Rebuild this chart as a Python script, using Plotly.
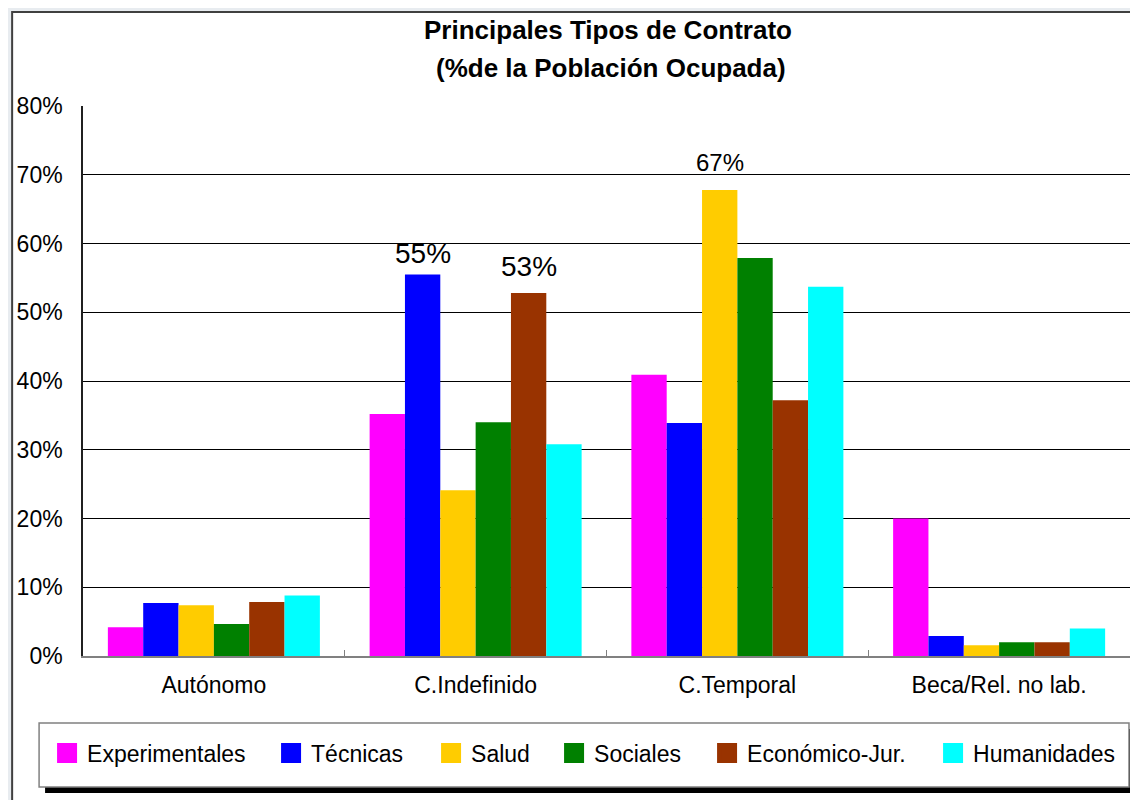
import plotly.graph_objects as go

categories = ["Autónomo", "C.Indefinido", "C.Temporal", "Beca/Rel. no lab."]
series_names = ["Experimentales", "Técnicas", "Salud", "Sociales", "Económico-Jur.", "Humanidades"]
series_colors = ["#FF00FF", "#0000FF", "#FFCC00", "#008000", "#993300", "#00FFFF"]

experimentales = [4.2, 35.2, 40.9, 20.0]
tecnicas = [7.7, 55.5, 33.9, 2.9]
salud = [7.4, 24.1, 67.8, 1.55]
sociales = [4.65, 34.0, 57.9, 2.0]
economico = [7.85, 52.8, 37.2, 2.0]
humanidades = [8.8, 30.8, 53.7, 4.0]
series_values = [experimentales, tecnicas, salud, sociales, economico, humanidades]

# data labels: (series index, category index, text, font size, gap above bar in px)
data_labels = [
    (1, 1, "55%", 28, 21),
    (4, 1, "53%", 28, 27),
    (2, 2, "67%", 24, 27),
]

yticks = [0, 10, 20, 30, 40, 50, 60, 70, 80]
ytick_labels = ["0%", "10%", "20%", "30%", "40%", "50%", "60%", "70%", "80%"]

OFF = 8  # page body margin
W, H = 1138 - OFF, 800 - OFF
ML, MR, MT, MB = 83 - OFF, 6, 106 - OFF, 144
PW, PH = W - ML - MR, H - MT - MB
BARGAP = 0.19

def px_x(p):
    return (p - OFF - ML) / PW

def px_y(p):
    return (H + OFF - MB - p) / PH

FONT = "Liberation Sans, Arial, sans-serif"

fig = go.Figure()
for name, color, vals in zip(series_names, series_colors, series_values):
    fig.add_trace(go.Bar(
        x=categories, y=vals, name=name, marker=dict(color=color, line=dict(width=0)),
        showlegend=False, hoverinfo="x+y+name",
    ))

legend_widths = [179, 115, 78, 108, 181, 150]
for name, color, lw in zip(series_names, series_colors, legend_widths):
    fig.add_trace(go.Scatter(
        x=[None], y=[None], mode="markers", name=name, legendwidth=lw,
        marker=dict(symbol="square", size=16, color=color, line=dict(color=color, width=4)),
    ))

n_series = len(series_names)
bar_w = PW / len(categories) * (1 - BARGAP) / n_series
annotations = []
for si, ci, txt, fs, gap in data_labels:
    annotations.append(dict(
        text=txt, xref="x", yref="y", x=categories[ci], y=series_values[si][ci],
        xshift=(si - (n_series - 1) / 2) * bar_w, yshift=gap,
        showarrow=False, xanchor="center", yanchor="middle",
        font=dict(size=fs, color="black", family=FONT)))

annotations += [
    dict(text="<b>Principales Tipos de Contrato</b>", xref="paper", yref="paper",
         x=px_x(609), y=px_y(30), showarrow=False, xanchor="center", yanchor="middle",
         font=dict(size=26, color="black", family=FONT)),
    dict(text="<b>(%de la Población Ocupada)</b>", xref="paper", yref="paper",
         x=px_x(612), y=px_y(68), showarrow=False, xanchor="center", yanchor="middle",
         font=dict(size=26, color="black", family=FONT)),
]

shapes = [
    dict(type="rect", xref="paper", yref="paper", layer="below",
         x0=px_x(12), x1=px_x(1150), y0=px_y(812), y1=px_y(12),
         fillcolor="white", line=dict(color="#404040", width=2)),
    dict(type="rect", xref="paper", yref="paper", layer="below",
         x0=px_x(45), x1=px_x(1138), y0=px_y(793), y1=px_y(729),
         fillcolor="black", line=dict(width=0)),
    dict(type="rect", xref="paper", yref="paper", layer="below",
         x0=px_x(39), x1=px_x(1131), y0=px_y(787), y1=px_y(723),
         fillcolor="white", line=dict(color="#808080", width=1.5)),
]

fig.update_layout(
    width=W, height=H,
    margin=dict(l=ML, r=MR, t=MT, b=MB, pad=0),
    paper_bgcolor="#E8ECF0",
    plot_bgcolor="white",
    barmode="group", bargap=BARGAP, bargroupgap=0,
    font=dict(family=FONT, color="black", size=22),
    shapes=shapes, annotations=annotations,
    legend=dict(orientation="h", x=px_x(47), xanchor="left", y=px_y(753), yanchor="middle",
                bgcolor="rgba(0,0,0,0)", font=dict(size=23, family=FONT, color="black"),
                itemsizing="trace"),
    xaxis=dict(type="category", showline=True, linecolor="#808080", linewidth=1.5, mirror=False,
               ticks="inside", tickson="boundaries", ticklen=6, tickcolor="#808080",
               tickfont=dict(size=23, family=FONT, color="black"), showgrid=False,
               ticklabelstandoff=8, fixedrange=True),
    yaxis=dict(range=[0, 80], tickvals=yticks, ticktext=ytick_labels,
               showgrid=True, gridcolor="black", gridwidth=1, zeroline=False,
               showline=True, linecolor="#202020", linewidth=1.5, mirror=True,
               ticks="", tickfont=dict(size=23, family=FONT, color="black"),
               ticklabelstandoff=14, fixedrange=True),
)

fig.write_html("out.html")
